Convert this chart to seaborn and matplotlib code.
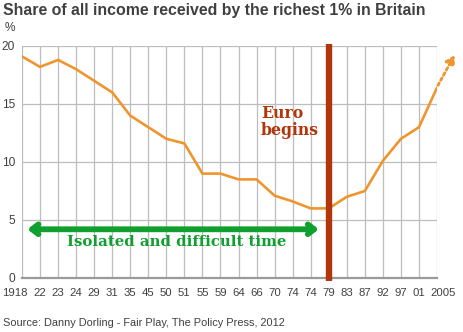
import numpy as np
import pandas as pd
import matplotlib
matplotlib.use("Agg")
import matplotlib.pyplot as plt
import matplotlib.transforms as mtransforms
import seaborn as sns

# ---- data -------------------------------------------------------------
year_labels = ['1918', '22', '23', '24', '29', '31', '35', '45', '50', '51', '55', '59',
               '64', '66', '70', '74', '74', '79', '83', '87', '92', '97', '01', '2005']
share_pct = [19.1, 18.2, 18.8, 18.0, 17.0, 16.0, 14.0, 13.0, 12.0, 11.6, 9.0, 9.0,
             8.5, 8.5, 7.1, 6.6, 6.0, 6.0, 7.0, 7.5, 10.1, 12.0, 13.0, 16.4]
y_ticks = [0, 5, 10, 15, 20]
euro_year_label = '79'
projection_end = 19.2   # dotted arrow continuation after 2005
isolated_level = 4.2    # height of the green double arrow

df = pd.DataFrame({'pos': np.arange(len(year_labels)), 'year': year_labels, 'share': share_pct})

# ---- style ------------------------------------------------------------
sns.set_style('white')
plt.rcParams['font.family'] = ['Liberation Sans', 'DejaVu Sans']

ORANGE = '#EF952E'
RED = '#B3360B'
GREEN = '#10A030'
GRID = '#BDBDBD'
TEXT = '#404040'

fig = plt.figure(figsize=(4.64, 3.32), dpi=100)
ax = fig.add_axes([22 / 464, 1 - 278 / 332, (437 - 22) / 464, (278 - 46) / 332])

sns.lineplot(data=df, x='pos', y='share', ax=ax, color=ORANGE, lw=1.9, zorder=3)

n = len(year_labels)
ax.set_xlim(0, n - 1)
ax.set_ylim(0, 20)
ax.set_xticks(df['pos'])
ax.set_xticklabels(year_labels)
ax.set_yticks(y_ticks)
ax.set_xlabel('')
ax.set_ylabel('')

for x in df['pos']:
    ax.axvline(x, color=GRID, lw=0.9, zorder=0)
for y in y_ticks[1:]:
    ax.axhline(y, color=GRID, lw=0.9, zorder=0)
for s in ['top', 'right', 'left']:
    ax.spines[s].set_visible(False)
ax.spines['bottom'].set_color('#9A9A9A')
ax.spines['bottom'].set_linewidth(1.6)
ax.spines['bottom'].set_zorder(1)

ax.tick_params(axis='x', length=4, width=0.9, color=GRID, pad=3.5, labelsize=8.2, labelcolor=TEXT)
ax.tick_params(axis='y', length=0, pad=5, labelsize=8.6, labelcolor=TEXT)

# shift the end labels outward, like the reference
xlabels = ax.get_xticklabels()
xlabels[0].set_transform(xlabels[0].get_transform() +
                         mtransforms.ScaledTranslation(-7 / 100, 0, fig.dpi_scale_trans))
xlabels[-1].set_transform(xlabels[-1].get_transform() +
                          mtransforms.ScaledTranslation(6 / 100, 0, fig.dpi_scale_trans))

# Euro bar
euro_x = year_labels.index(euro_year_label)
ax.plot([euro_x, euro_x], [-0.3, 20.2], color=RED, lw=4.6, solid_capstyle='butt',
        clip_on=False, zorder=4)
ax.text(13.25, 13.45, 'Euro\nbegins', color=RED, fontsize=11.3, fontweight='bold',
        family='DejaVu Serif', ha='left', va='center', linespacing=1.0, zorder=5)

# projection arrow
ax.annotate('', xy=(n - 0.03, projection_end), xytext=(n - 1 + 0.05, share_pct[-1] + 0.2),
            arrowprops=dict(arrowstyle='-|>,head_length=0.5,head_width=0.3', color=ORANGE,
                            lw=2.0, ls=(0, (1, 1.1)), shrinkA=0, shrinkB=0),
            annotation_clip=False)

# isolated arrow
ax.annotate('', xy=(0.3, isolated_level), xytext=(16.45, isolated_level),
            arrowprops=dict(arrowstyle='<->,head_length=0.45,head_width=0.35', color=GREEN,
                            lw=4.2, shrinkA=0, shrinkB=0, capstyle='round', joinstyle='round'),
            annotation_clip=False, zorder=5)
ax.text(8.55, 3.1, 'Isolated and difficult time', color=GREEN, fontsize=10.7, fontweight='bold',
        family='DejaVu Serif', ha='center', va='center', zorder=5)

# titles
fig.text(3 / 464, 1 - 10 / 332, 'Share of all income received by the richest 1% in Britain',
         fontsize=11.4, fontweight='bold', color=TEXT, ha='left', va='center')
fig.text(5 / 464, 1 - 28 / 332, '%', fontsize=8.6, color=TEXT, ha='left', va='center')
fig.text(3 / 464, 1 - 323 / 332, 'Source: Danny Dorling - Fair Play, The Policy Press, 2012',
         fontsize=7.9, color=TEXT, ha='left', va='center')

fig.savefig('out.png', dpi=100)
